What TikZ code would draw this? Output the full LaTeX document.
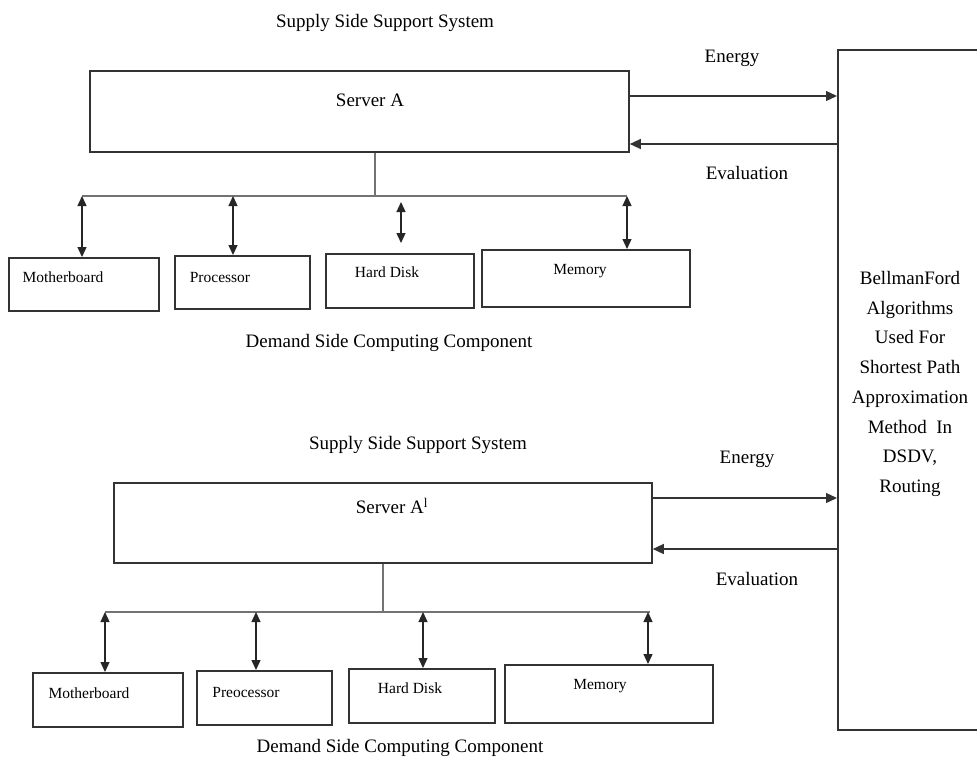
\documentclass[tikz,border=0pt]{standalone}
\usepackage{fontspec}
\setmainfont{Liberation Serif}
\usetikzlibrary{arrows.meta}

\begin{document}
\begin{tikzpicture}[x=1pt,y=-1pt,
  frame/.style={draw=black!80,line width=1.8pt,inner sep=0pt,anchor=north west},
  link/.style={draw=black!80,line width=1.3pt},
  bus/.style={draw=black!55,line width=1.1pt},
  tip/.style={-{Triangle[length=11pt,width=10pt]}},
  twoway/.style={draw=black!85,line width=1.3pt,{Triangle[length=10pt,width=9pt]}-{Triangle[length=10pt,width=9pt]}},
  big/.style={font=\fontsize{19}{22}\selectfont,inner sep=0pt},
  part/.style={font=\fontsize{15.5}{18}\selectfont,inner sep=0pt}]

\useasboundingbox (0,0) rectangle (977,763);
\clip (0,0) rectangle (977,763);

% ---------- algorithm block on the right ----------
\node[frame,minimum width=146pt,minimum height=680pt] (bf) at (837,49) {};
\node[align=center,inner sep=0pt,font=\fontsize{19}{29.7}\selectfont] (bftext) at (910,384)
  {BellmanFord\\Algorithms\\Used For\\Shortest Path\\Approximation\\Method\ \ In\\DSDV,\\Routing};

% ---------- upper server group ----------
\node[big] (supA) at (385,23) {Supply Side Support System};
\node[frame,minimum width=539pt,minimum height=81pt] (srvA) at (89,70) {};
\node[big] (srvAt) at (370,100) {Server A};

\node[frame,minimum width=150pt,minimum height=53pt] (mb1) at (8,257) {};
\node[frame,minimum width=135pt,minimum height=53pt] (pr1) at (174,255) {};
\node[frame,minimum width=148pt,minimum height=54pt] (hd1) at (325,253) {};
\node[frame,minimum width=208pt,minimum height=57pt] (me1) at (481,249) {};
\node[part] (mb1t) at (63,277) {Motherboard};
\node[part] (pr1t) at (220,277) {Processor};
\node[part] (hd1t) at (387,272) {Hard Disk};
\node[part] (me1t) at (580,271) {Memory};
\node[big] (demA) at (389,343) {Demand Side Computing Component};

\coordinate (busAl) at (82,196);
\coordinate (busAr) at (627,196);
\coordinate (dA1) at (82,196);
\coordinate (dA2) at (233,196);
\coordinate (dA3) at (401,202);
\coordinate (dA4) at (627,196);
\draw[bus] (srvA.south -| 375,0) -- (375,196);
\draw[bus] (busAl) -- (busAr);
\draw[twoway] (dA1) -- (dA1 |- mb1.north);
\draw[twoway] (dA2) -- (dA2 |- pr1.north);
\draw[twoway] (dA3) -- (401,243);
\draw[twoway] (dA4) -- (dA4 |- me1.north);

\draw[link,tip] (srvA.east |- 0,96) -- (bf.west |- 0,96);
\draw[link,tip] (bf.west |- 0,144) -- (srvA.east |- 0,144);
\node[big] (enA) at (732,58) {Energy};
\node[big] (evA) at (747,173) {Evaluation};

% ---------- lower server group ----------
\node[big] (supB) at (418,445) {Supply Side Support System};
\node[frame,minimum width=538pt,minimum height=80pt] (srvB) at (113,482) {};
\node[big] (srvBt) at (392,506) {Server A\textsuperscript{l}};

\node[frame,minimum width=150pt,minimum height=54pt] (mb2) at (32,672) {};
\node[frame,minimum width=135pt,minimum height=54pt] (pr2) at (196,670) {};
\node[frame,minimum width=146pt,minimum height=54pt] (hd2) at (348,668) {};
\node[frame,minimum width=208pt,minimum height=58pt] (me2) at (504,664) {};
\node[part] (mb2t) at (89,693) {Motherboard};
\node[part] (pr2t) at (246,692) {Preocessor};
\node[part] (hd2t) at (410,688) {Hard Disk};
\node[part] (me2t) at (600,686) {Memory};
\node[big] (demB) at (400,748) {Demand Side Computing Component};

\coordinate (busBl) at (105,612);
\coordinate (busBr) at (650,612);
\coordinate (dB1) at (105,612);
\coordinate (dB2) at (256,612);
\coordinate (dB3) at (423,612);
\coordinate (dB4) at (648,612);
\draw[bus] (srvB.south -| 383,0) -- (383,612);
\draw[bus] (busBl) -- (busBr);
\draw[twoway] (dB1) -- (dB1 |- mb2.north);
\draw[twoway] (dB2) -- (dB2 |- pr2.north);
\draw[twoway] (dB3) -- (dB3 |- hd2.north);
\draw[twoway] (dB4) -- (dB4 |- me2.north);

\draw[link,tip] (srvB.east |- 0,498) -- (bf.west |- 0,498);
\draw[link,tip] (bf.west |- 0,549) -- (srvB.east |- 0,549);
\node[big] (enB) at (747,459) {Energy};
\node[big] (evB) at (757,579) {Evaluation};
\end{tikzpicture}
\end{document}
